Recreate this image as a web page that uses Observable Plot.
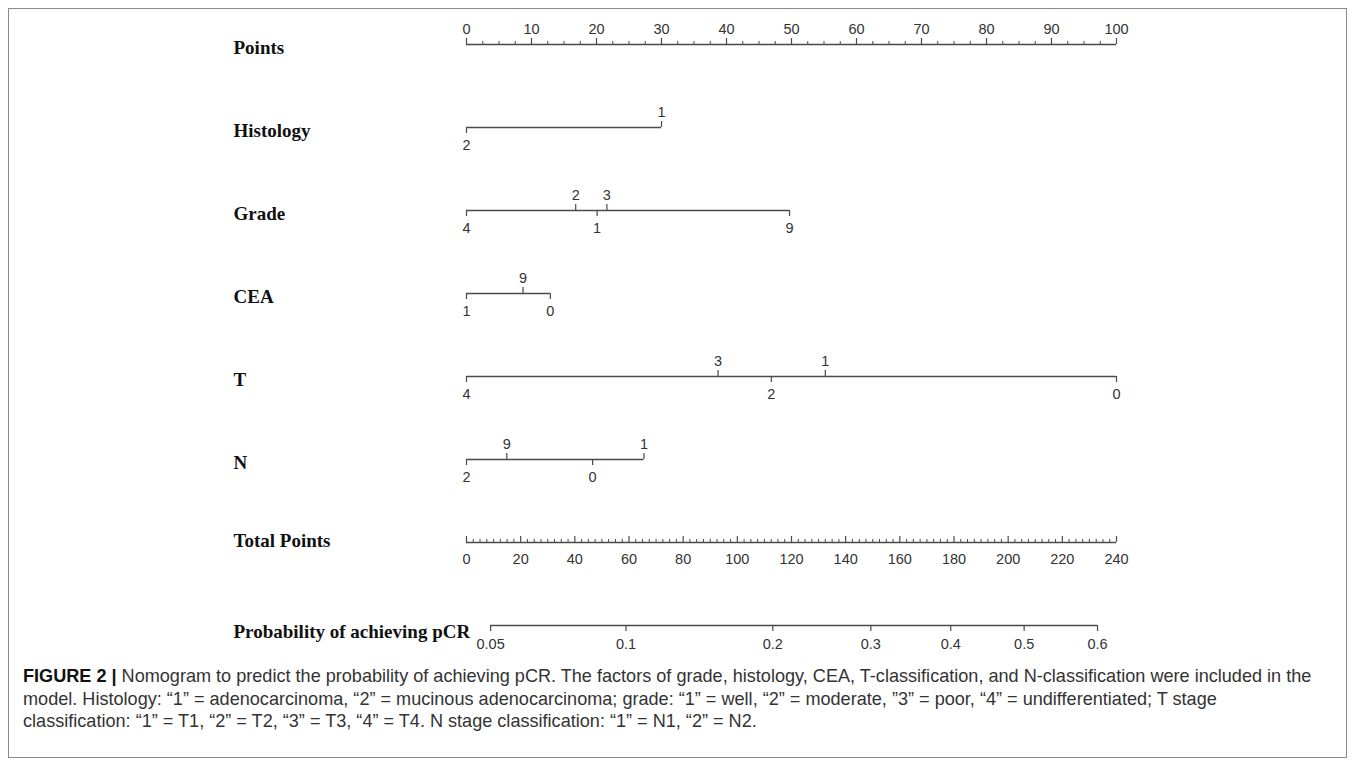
<!DOCTYPE html>
<html>
<head>
<meta charset="utf-8">
<script src="https://cdn.jsdelivr.net/npm/d3@7"></script>
<script src="https://cdn.jsdelivr.net/npm/@observablehq/plot@0.6"></script>
<style>
  html, body { margin: 0; padding: 0; background: #fff; }
  body { position: relative; width: 1357px; height: 769px; overflow: hidden; }
  #frame { position: absolute; left: 8px; top: 8px; width: 1339px; height: 750px; border: 1px solid #8a8a8a; box-sizing: border-box; }
  #chart { position: absolute; left: 0; top: 0; }
  #caption { position: absolute; left: 23px; top: 665px; width: 1320px; font-family: "Liberation Sans", Arial, sans-serif; font-size: 18.1px; line-height: 22.5px; color: #333; white-space: nowrap; }
  #caption b { color: #111; }
</style>
</head>
<body>
<div id="frame"></div>
<div id="chart"></div>
<div id="caption"><b>FIGURE 2 |</b> Nomogram to predict the probability of achieving pCR. The factors of grade, histology, CEA, T-classification, and N-classification were included in the<br>model. Histology: “1” = adenocarcinoma, “2” = mucinous adenocarcinoma; grade: “1” = well, “2” = moderate, ”3” = poor, “4” = undifferentiated; T stage<br>classification: “1” = T1, “2” = T2, “3” = T3, “4” = T4. N stage classification: “1” = N1, “2” = N2.</div>
<script>
// ---------- data ----------
const rows = ["Points", "Histology", "Grade", "CEA", "T", "N", "Total Points", "Probability of achieving pCR"];

const pointsTickLabels = [0, 10, 20, 30, 40, 50, 60, 70, 80, 90, 100];
const pointsMinorStep = 2.5;

const histologyLevels = ["2", "1"];
const histologyPoints = [0, 30];
const histologySide   = ["below", "above"];

const gradeLevels = ["4", "2", "1", "3", "9"];
const gradePoints = [0, 16.8, 20.1, 21.6, 49.7];
const gradeSide   = ["below", "above", "below", "above", "below"];

const ceaLevels = ["1", "9", "0"];
const ceaPoints = [0, 8.7, 12.9];
const ceaSide   = ["below", "above", "below"];

const tLevels = ["4", "3", "2", "1", "0"];
const tPoints = [0, 38.7, 46.9, 55.2, 100];
const tSide   = ["below", "above", "below", "above", "below"];

const nLevels = ["2", "9", "0", "1"];
const nPoints = [0, 6.2, 19.4, 27.3];
const nSide   = ["below", "above", "below", "above"];

const totalTickLabels = [0, 20, 40, 60, 80, 100, 120, 140, 160, 180, 200, 220, 240];
const totalMax = 240;
const totalMinorStep = 2.5;

const probLabels      = ["0.05", "0.1", "0.2", "0.3", "0.4", "0.5", "0.6"];
const probTotalPoints = [8.9, 58.9, 113.1, 149.3, 178.8, 205.9, 233.0];

// ---------- build tables ----------
const toPts = v => v * 100 / totalMax; // total points -> points scale
const vars = [
  ["Histology", histologyLevels, histologyPoints, histologySide],
  ["Grade", gradeLevels, gradePoints, gradeSide],
  ["CEA", ceaLevels, ceaPoints, ceaSide],
  ["T", tLevels, tPoints, tSide],
  ["N", nLevels, nPoints, nSide]
];
const varTicks = vars.flatMap(([row, lv, pts, side]) => lv.map((l, i) => ({row, label: l, x: pts[i], side: side[i]})));
const segments = [
  {row: "Points", a: 0, b: d3.max(pointsTickLabels)},
  ...vars.map(([row, lv, pts]) => ({row, a: d3.min(pts), b: d3.max(pts)})),
  {row: "Total Points", a: 0, b: toPts(totalMax)},
  {row: rows[7], a: toPts(probTotalPoints[0]), b: toPts(probTotalPoints[probTotalPoints.length - 1])}
];
const pointsMajor = pointsTickLabels.map(v => ({row: "Points", x: v, label: String(v)}));
const pointsMinor = d3.range(0, 100 + 1e-9, pointsMinorStep).filter(v => !pointsTickLabels.includes(v)).map(v => ({row: "Points", x: v}));
const totalMajor = totalTickLabels.map(v => ({row: "Total Points", x: toPts(v), label: String(v)}));
const totalMinor = d3.range(0, totalMax + 1e-9, totalMinorStep).filter(v => !totalTickLabels.includes(v)).map(v => ({row: "Total Points", x: toPts(v)}));
const probTicks = probLabels.map((l, i) => ({row: rows[7], x: toPts(probTotalPoints[i]), label: l}));

const up = varTicks.filter(d => d.side === "above");
const down = varTicks.filter(d => d.side === "below");

const lineColor = "#4a4a4a";
const textFont = "'Liberation Sans', Arial, sans-serif";
const serif = "'Liberation Serif', 'Times New Roman', serif";

const chart = Plot.plot({
  width: 1357,
  height: 660,
  marginLeft: 466,
  marginRight: 241,
  marginTop: 0,
  marginBottom: 0,
  x: {domain: [0, 100], axis: null},
  y: {type: "point", domain: rows, range: [43, 625], padding: 0, axis: null},
  style: {fontFamily: textFont, background: "transparent"},
  marks: [
    // main lines
    Plot.ruleY(segments, {y: "row", x1: "a", x2: "b", stroke: lineColor, strokeWidth: 1.3}),
    // Points axis ticks (up)
    Plot.ruleX(pointsMajor, {x: "x", y1: "row", y2: "row", insetTop: -6, stroke: lineColor, strokeWidth: 1.2}),
    Plot.ruleX(pointsMinor, {x: "x", y1: "row", y2: "row", insetTop: -3, stroke: lineColor, strokeWidth: 1}),
    Plot.text(pointsMajor, {x: "x", y: "row", text: "label", dy: -15, fontSize: 14.5, fill: "#333"}),
    // variable ticks
    Plot.ruleX(up, {x: "x", y1: "row", y2: "row", insetTop: -6, stroke: lineColor, strokeWidth: 1.2}),
    Plot.ruleX(down, {x: "x", y1: "row", y2: "row", insetBottom: -6, stroke: lineColor, strokeWidth: 1.2}),
    Plot.text(up, {x: "x", y: "row", text: "label", dy: -15, fontSize: 14.5, fill: "#333"}),
    Plot.text(down, {x: "x", y: "row", text: "label", dy: 18, fontSize: 14.5, fill: "#333"}),
    // Total points axis (ticks up, labels below)
    Plot.ruleX(totalMajor, {x: "x", y1: "row", y2: "row", insetTop: -6, stroke: lineColor, strokeWidth: 1.2}),
    Plot.ruleX(totalMinor, {x: "x", y1: "row", y2: "row", insetTop: -3, stroke: lineColor, strokeWidth: 1}),
    Plot.text(totalMajor, {x: "x", y: "row", text: "label", dy: 17, fontSize: 14.5, fill: "#333"}),
    // Probability axis (ticks down, labels below)
    Plot.ruleX(probTicks, {x: "x", y1: "row", y2: "row", insetBottom: -6, stroke: lineColor, strokeWidth: 1.2}),
    Plot.text(probTicks, {x: "x", y: "row", text: "label", dy: 19, fontSize: 14.5, fill: "#333"}),
    // row labels
    Plot.text(rows.slice(0, 6), {y: d => d, frameAnchor: "left", dx: -233, dy: 3, textAnchor: "start", text: d => d, fontFamily: serif, fontWeight: "bold", fontSize: 19, fill: "#111"}),
    Plot.text([rows[6]], {y: d => d, frameAnchor: "left", dx: -233, dy: -2, textAnchor: "start", text: d => d, fontFamily: serif, fontWeight: "bold", fontSize: 19, fill: "#111"}),
    Plot.text([rows[7]], {y: d => d, frameAnchor: "left", dx: -233, dy: 6, textAnchor: "start", text: d => d, fontFamily: serif, fontWeight: "bold", fontSize: 19, fill: "#111"})
  ]
});
document.getElementById("chart").appendChild(chart);
</script>
</body>
</html>
